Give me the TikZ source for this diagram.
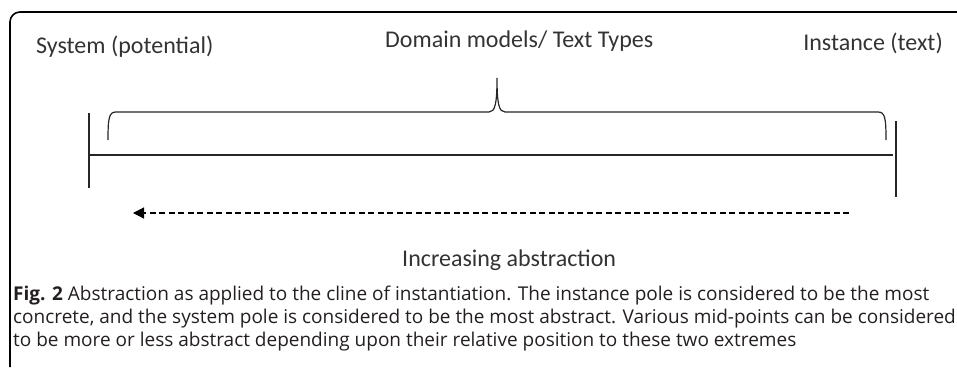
\documentclass[tikz,border=0pt]{standalone}
\usepackage{fontspec}
\setmainfont{Carlito}
\newfontfamily\capfont{Open Sans}
\usetikzlibrary{arrows.meta}
\definecolor{txt}{HTML}{333333}
\definecolor{captxt}{HTML}{231F20}
\begin{document}
\begin{tikzpicture}[x=1pt,y=-1pt,
  label/.style={font=\fontsize{24}{28}\selectfont,text=txt,inner sep=0pt},
  capline/.style={font=\capfont\fontsize{19}{23}\selectfont,text=captxt,inner sep=0pt,anchor=base west},
  stroke/.style={line width=1.2pt,black!85}]
\useasboundingbox (0,0) rectangle (957,367);
% frame
\draw[line width=1.6pt,rounded corners=10pt] (10,367) -- (10,12) -- (957,12);
% labels
\node[label,anchor=base west] (sys) at (36,53) {System (potential)};
\node[label,anchor=base west] (dom) at (385,47) {Domain models/ Text Types};
\node[label,anchor=base east] (ins) at (943,50) {Instance (text)};
% cline
\coordinate (lt) at (89,113);
\coordinate (lb) at (89,188);
\coordinate (rt) at (896,121);
\coordinate (rb) at (896,197);
\draw[stroke] (lt) -- (lb);
\draw[stroke] (rt) -- (rb);
\draw[stroke] (89,155) -- (893,155);
% brace
\draw[stroke] (108,140) .. controls (108,118) and (109,112) .. (116,112) -- (489,112)
  .. controls (495,112) and (497,104) .. (497,78)
  .. controls (497,104) and (499,112) .. (505,112) -- (878,112)
  .. controls (885,112) and (886,118) .. (886,140);
% arrow
\coordinate (as) at (849,213);
\coordinate (ae) at (133,213);
\draw[line width=1.2pt,dash pattern=on 6pt off 3.5pt,-{Triangle[length=11pt,width=11pt]}] (as) -- (ae);
\node[label,anchor=base west] (inc) at (402,266) {Increasing abstraction};
% caption
\node[capline] (c1) at (13,300) {\textbf{Fig. 2} Abstraction as applied to the cline of instantiation. The instance pole is considered to be the most};
\node[capline] (c2) at (13,323) {concrete, and the system pole is considered to be the most abstract. Various mid-points can be considered};
\node[capline] (c3) at (13,346) {to be more or less abstract depending upon their relative position to these two extremes};
\end{tikzpicture}
\end{document}
